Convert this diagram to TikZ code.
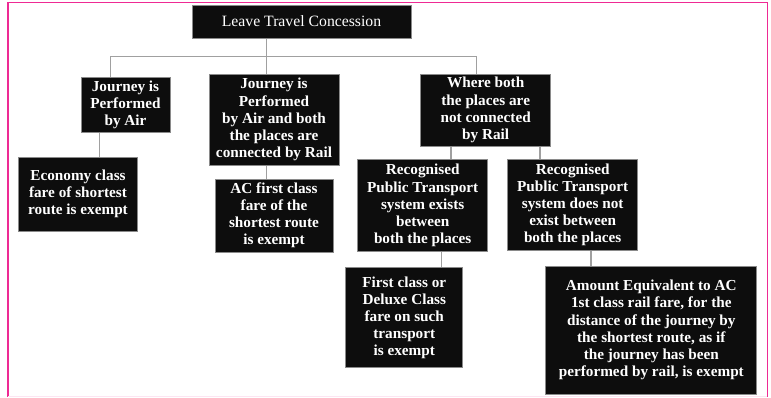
\documentclass[tikz,border=0pt]{standalone}
\usepackage{fontspec}
\setmainfont{Liberation Serif}
\usepackage{tikz}
\usepackage{xcolor}
\usetikzlibrary{positioning, calc}
\definecolor{boxfill}{HTML}{0D0D0D}
\definecolor{boxedge}{HTML}{8A8A8A}
\definecolor{linkgray}{HTML}{A0A0A0}
\definecolor{framepink}{HTML}{EE2A94}
\tikzset{
  card/.style={draw=boxedge, line width=1bp, fill=boxfill, text=white,
               align=center, inner sep=0pt, font=\bfseries\fontsize{15.3}{17.2}\selectfont},
  title/.style={card, font=\fontsize{15.8}{17}\selectfont},
  link/.style={draw=linkgray, line width=1.2bp},
}

\begin{document}
\begin{tikzpicture}[x=1bp, y=-1bp]
  \useasboundingbox (0,0) rectangle (771,397);
  % frame
  \draw[framepink, line width=2.2bp] (8.3,2) -- (8.3,397);
  \draw[framepink, line width=1.3bp] (7.5,2.6) -- (767.2,2.6) -- (767.2,397);
  \draw[framepink!12, line width=1bp] (8,396.3) -- (767,396.3);

  % boxes
  \node[title, minimum width=219bp, minimum height=33bp] (lta) at (301.5,21.5) {Leave Travel Concession};
  \node[card, minimum width=89bp, minimum height=55bp] (air) at (125.5,104.5)
    {Journey is\\Performed\\by Air};
  \node[card, minimum width=130bp, minimum height=91bp] (airrail) at (274,119.5)
    {Journey is\\Performed\\by Air and both\\the places are\\connected by Rail};
  \node[card, minimum width=130bp, minimum height=72bp] (norail) at (485.7,110)
    {Where both\\the places are\\not connected\\by Rail};
  \node[card, minimum width=118bp, minimum height=74bp] (eco) at (78,194)
    {Economy class\\fare of shortest\\route is exempt};
  \node[card, minimum width=118bp, minimum height=73bp] (acfirst) at (274,215.5)
    {AC first class\\fare of the\\shortest route\\is exempt};
  \node[card, minimum width=130bp, minimum height=92.5bp] (exists) at (422.7,205.5)
    {Recognised\\Public Transport\\system exists\\between\\both the places};
  \node[card, minimum width=130bp, minimum height=91bp] (noexist) at (572.7,204.7)
    {Recognised\\Public Transport\\system does not\\exist between\\both the places};
  \node[card, minimum width=117.3bp, minimum height=100.3bp] (deluxe) at (404.3,317.8)
    {First class or\\Deluxe Class\\fare on such\\transport\\is exempt};
  \node[card, minimum width=211.3bp, minimum height=128bp] (amount) at (651.3,330)
    {Amount Equivalent to AC\\1st class rail fare, for the\\distance of the journey by\\the shortest route, as if\\the journey has been\\performed by rail, is exempt};

  % connectors
  \coordinate (busL) at (110.7,56.3);
  \coordinate (busM) at (266.7,56.3);
  \coordinate (busR) at (476.7,56.3);
  \draw[link] (lta.south -| busM) -- (busM);
  \draw[link] (busL) -- (busR);
  \draw[link] (busL) -- (air.north -| busL);
  \draw[link] (busM) -- (airrail.north -| busM);
  \draw[link] (busR) -- (norail.north -| busR);
  \draw[link] ([xshift=-26.2bp]air.south) -- ([xshift=-26.2bp]air.south |- eco.north);
  \draw[link] ([xshift=-7.3bp]airrail.south) -- ([xshift=-7.3bp]airrail.south |- acfirst.north);
  \draw[link] ([xshift=-34.7bp]norail.south) -- ([xshift=-34.7bp]norail.south |- exists.north);
  \draw[link] ([xshift=54.3bp]norail.south) -- ([xshift=54.3bp]norail.south |- noexist.north);
  \draw[link] ([xshift=19bp]exists.south) -- ([xshift=19bp]exists.south |- deluxe.north);
  \draw[link] ([xshift=18.3bp]noexist.south) -- ([xshift=18.3bp]noexist.south |- amount.north);
\end{tikzpicture}
\end{document}
